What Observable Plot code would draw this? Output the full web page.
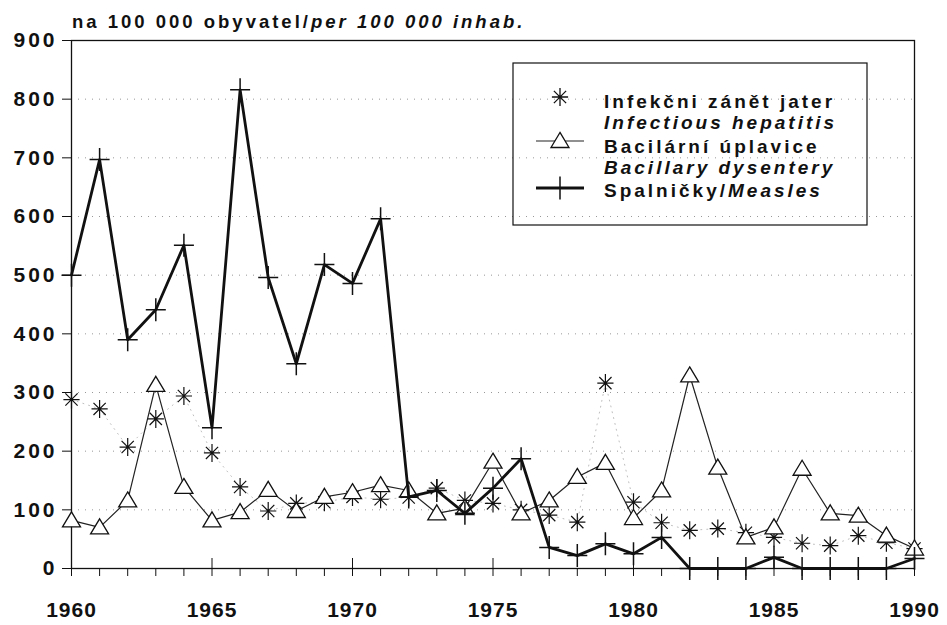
<!DOCTYPE html>
<html>
<head>
<meta charset="utf-8">
<script src="https://cdn.jsdelivr.net/npm/d3@7"></script>
<script src="https://cdn.jsdelivr.net/npm/@observablehq/plot@0.6"></script>
<style>
  html, body { margin: 0; padding: 0; background: white; }
  #chart svg { display: block; }
  g[aria-label="y-axis tick label"] text { letter-spacing: 3px; }
  g[aria-label="x-axis tick label"] text { letter-spacing: 1px; }
  .ttl, .lg { letter-spacing: 3px; }
</style>
</head>
<body>
<div id="chart"></div>
<script>
// ---- data ----
const years = [1960,1961,1962,1963,1964,1965,1966,1967,1968,1969,1970,1971,1972,1973,1974,1975,
               1976,1977,1978,1979,1980,1981,1982,1983,1984,1985,1986,1987,1988,1989,1990];
const hepatitis = [288,272,207,255,294,197,139,98,111,113,122,118,121,137,116,111,
                   100,91,79,316,113,78,65,68,61,53,43,39,56,44,34];
const dysentery = [82,70,116,313,139,82,96,134,98,122,130,142,133,94,103,182,
                   94,116,156,180,86,133,329,172,53,70,170,94,90,56,34];
const measles = [500,697,390,441,551,240,816,496,349,518,486,596,122,133,94,137,
                 187,36,22,42,25,53,0,0,0,19,0,0,0,0,17];
const yTicks = [0,100,200,300,400,500,600,700,800,900];
const gridValues = [100,200,300,400,500,600,700,800];
const majorYears = [1960,1965,1970,1975,1980,1985,1990];
const titleMain = "na 100 000 obyvatel/";
const titleItalic = "per 100 000 inhab.";
const legendItems = [
  {key: "hep", lines: [["Infekčni zánět jater", ""], ["", "Infectious hepatitis"]]},
  {key: "dys", lines: [["Bacilární úplavice", ""], ["", "Bacillary dysentery"]]},
  {key: "mea", lines: [["Spalničky/", "Measles"]]}
];

const data = years.map((y, i) => ({year: y, hep: hepatitis[i], dys: dysentery[i], mea: measles[i]}));

// ---- custom symbols ----
const rOf = size => Math.sqrt(size / Math.PI);
const asterisk = {draw(ctx, size) {
  const r = rOf(size);
  ctx.moveTo(0, -r); ctx.lineTo(0, r);
  ctx.moveTo(-0.9 * r, 0); ctx.lineTo(0.9 * r, 0);
  const d = 0.68 * r;
  ctx.moveTo(-d, -d); ctx.lineTo(d, d);
  ctx.moveTo(-d, d); ctx.lineTo(d, -d);
}};
const triangle = {draw(ctx, size) {
  const r = rOf(size);
  ctx.moveTo(0, -0.95 * r);
  ctx.lineTo(r, 0.72 * r);
  ctx.lineTo(-r, 0.72 * r);
  ctx.closePath();
}};
const plus = {draw(ctx, size) {
  const r = rOf(size);
  ctx.moveTo(-r, 0); ctx.lineTo(r, 0);
  ctx.moveTo(0, -1.15 * r); ctx.lineTo(0, 1.15 * r);
}};

const FONT = "'Liberation Sans', Arial, Helvetica, sans-serif";

const chart = Plot.plot({
  width: 947,
  height: 625,
  marginTop: 40,
  marginBottom: 57,
  marginLeft: 71,
  marginRight: 33,
  x: {domain: [1960, 1990]},
  y: {domain: [0, 900]},
  style: {fontFamily: FONT, background: "white", color: "#111", overflow: "visible"},
  marks: [
    Plot.ruleY(gridValues, {stroke: "#555", strokeDasharray: "1,6", strokeOpacity: 0.6}),
    Plot.frame({stroke: "#111", strokeWidth: 1.3}),
    Plot.axisY({ticks: yTicks, tickSize: 9, tickPadding: 5, fontSize: 21, fontWeight: "bold",
                label: null, tickFormat: d => String(d)}),
    Plot.axisX({ticks: years, tickSize: 8, tickPadding: 26, fontSize: 21, fontWeight: "bold",
                label: null, tickFormat: d => (d % 5 === 0 ? String(d) : "")}),
    Plot.ruleX(majorYears, {x: d => d, y1: 0, y2: 0, insetTop: -10, stroke: "#111"}),
    Plot.line(data, {x: "year", y: "hep", stroke: "#888", strokeWidth: 1, strokeDasharray: "1,5", strokeOpacity: 0.55}),
    Plot.dot(data, {x: "year", y: "hep", symbol: asterisk, r: 9, stroke: "#111", fill: "none", strokeWidth: 1.2}),
    Plot.line(data, {x: "year", y: "dys", stroke: "#222", strokeWidth: 1.2}),
    Plot.dot(data, {x: "year", y: "dys", symbol: triangle, r: 9, stroke: "#111", fill: "white", strokeWidth: 1.3}),
    Plot.line(data, {x: "year", y: "mea", stroke: "#111", strokeWidth: 2.8}),
    Plot.dot(data, {x: "year", y: "mea", symbol: plus, r: 10, stroke: "#111", fill: "none", strokeWidth: 1.5})
  ]
});
document.getElementById("chart").appendChild(chart);

// ---- title and legend (layout decorations) ----
const svg = d3.select(chart);
const t = svg.append("text").attr("class", "ttl")
  .attr("x", 72).attr("y", 28).attr("text-anchor", "start")
  .attr("font-family", FONT).attr("font-size", 18.5).attr("font-weight", "bold").attr("fill", "#111");
t.append("tspan").text(titleMain);
t.append("tspan").attr("font-style", "italic").text(titleItalic);

const lg = svg.append("g").attr("font-family", FONT).attr("fill", "#111").attr("text-anchor", "start");
lg.append("rect").attr("x", 513).attr("y", 63).attr("width", 354).attr("height", 162)
  .attr("fill", "none").attr("stroke", "#111").attr("stroke-width", 1.2);

const symX = 560;
const symY = {hep: 97, dys: 141, mea: 188};
const symDef = {hep: [asterisk, 9], dys: [triangle, 9], mea: [plus, 10]};
// sample lines
lg.append("line").attr("x1", 536).attr("x2", 584).attr("y1", symY.dys).attr("y2", symY.dys)
  .attr("stroke", "#222").attr("stroke-width", 1.2);
lg.append("line").attr("x1", 536).attr("x2", 584).attr("y1", symY.mea).attr("y2", symY.mea)
  .attr("stroke", "#111").attr("stroke-width", 2.8);
for (const k of ["hep", "dys", "mea"]) {
  const [type, r] = symDef[k];
  lg.append("path")
    .attr("transform", `translate(${symX},${symY[k]})`)
    .attr("d", d3.symbol().type(type).size(Math.PI * r * r)())
    .attr("fill", k === "dys" ? "white" : "none")
    .attr("stroke", "#111").attr("stroke-width", k === "mea" ? 1.5 : 1.3);
}
const baselines = [[108, 129], [153, 174], [197]];
legendItems.forEach((item, i) => {
  item.lines.forEach((ln, j) => {
    const tx = lg.append("text").attr("class", "lg")
      .attr("x", 604).attr("y", baselines[i][j])
      .attr("font-size", 19).attr("font-weight", "bold");
    if (ln[0]) tx.append("tspan").text(ln[0]);
    if (ln[1]) tx.append("tspan").attr("font-style", "italic").text(ln[1]);
  });
});
</script>
</body>
</html>
